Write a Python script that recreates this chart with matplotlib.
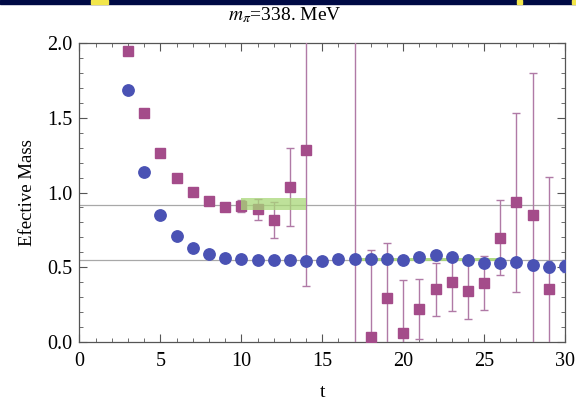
import numpy as np
import matplotlib.pyplot as plt
from matplotlib.patches import Rectangle
from matplotlib.ticker import MultipleLocator

plt.rcParams['font.family'] = ['Liberation Serif', 'DejaVu Serif']
plt.rcParams['mathtext.fontset'] = 'stix'

# pion effective mass (blue circles)
t_pion = np.arange(3, 31)
m_pion = [1.687, 1.139, 0.849, 0.708, 0.630, 0.590, 0.561, 0.552, 0.550, 0.548,
          0.548, 0.543, 0.543, 0.552, 0.556, 0.556, 0.556, 0.550, 0.570, 0.579,
          0.570, 0.546, 0.525, 0.525, 0.532, 0.514, 0.503, 0.507]
err_pion = [0.002, 0.002, 0.002, 0.003, 0.003, 0.003, 0.004, 0.004, 0.005, 0.005,
            0.006, 0.006, 0.007, 0.008, 0.009, 0.010, 0.011, 0.012, 0.014, 0.015,
            0.017, 0.019, 0.021, 0.024, 0.027, 0.030, 0.035, 0.040]

# second channel (purple squares)
t_sq = [3, 4, 5, 6, 7, 8, 9, 10, 11, 12, 13, 14, 17,
        18, 19, 20, 21, 22, 23, 24, 25, 26, 27, 28, 29]
m_sq = [1.95, 1.535, 1.263, 1.099, 1.001, 0.943, 0.905, 0.912, 0.889, 0.816, 1.035, 1.285, 2.5,
        0.034, 0.29, 0.056, 0.219, 0.351, 0.398, 0.34, 0.395, 0.697, 0.934, 0.849, 0.351]
err_sq = [0.005, 0.005, 0.008, 0.01, 0.012, 0.015, 0.02, 0.04, 0.07, 0.12, 0.26, 0.91, 3.0,
          0.58, 0.37, 0.36, 0.2, 0.18, 0.19, 0.19, 0.18, 0.25, 0.6, 0.95, 0.75]

# plateau fits: (t_start, t_end, value, half width)
fit_pion = (17, 26, 0.552, 0.008)
fit_sq = (10, 14, 0.922, 0.039)
line_pion = 0.548
line_sq = 0.916

fig = plt.figure(figsize=(5.76, 4.04), dpi=100)
ax = fig.add_axes([0.138, 0.154, 0.843, 0.739])

ax.axhline(line_sq, color='#a8a8a8', lw=0.9, zorder=1)
ax.axhline(line_pion, color='#a8a8a8', lw=0.9, zorder=1)

ax.add_patch(Rectangle((fit_pion[0], fit_pion[2] - fit_pion[3]), fit_pion[1] - fit_pion[0],
                       2 * fit_pion[3], color='#a8d878', alpha=0.9, lw=0, zorder=2))

ax.errorbar(t_pion, m_pion, yerr=err_pion, fmt='o', ms=8.2, color='#4a52b4',
            ecolor='#6a70c0', elinewidth=1, capsize=2.5, zorder=4)
ax.errorbar(t_sq, m_sq, yerr=err_sq, fmt='s', ms=7.5, color='#a44c8a',
            ecolor='#b07aa6', elinewidth=1, capsize=2.8, zorder=3)

ax.add_patch(Rectangle((fit_sq[0], fit_sq[2] - fit_sq[3]), fit_sq[1] - fit_sq[0],
                       2 * fit_sq[3], color='#a8d878', alpha=0.75, lw=0, zorder=5))

ax.set_xlim(0, 30)
ax.set_ylim(0, 2.0)
ax.xaxis.set_major_locator(MultipleLocator(5))
ax.xaxis.set_minor_locator(MultipleLocator(1))
ax.yaxis.set_major_locator(MultipleLocator(0.5))
ax.yaxis.set_minor_locator(MultipleLocator(0.1))
ax.yaxis.set_major_formatter(lambda v, pos: f'{v:.1f}')
ax.tick_params(which='both', direction='in', top=True, right=True,
               color='#555555', labelsize=14.5)
ax.tick_params(axis='x', pad=7)
ax.tick_params(axis='y', pad=5)
ax.tick_params(which='major', length=6, width=0.8)
ax.tick_params(which='minor', length=3, width=0.6)
for s in ax.spines.values():
    s.set_color('#555555')
    s.set_linewidth(0.9)

ax.set_xlabel('t', fontsize=14, labelpad=10)
ax.set_ylabel('Efective Mass', fontsize=13.5, labelpad=8)
fig.text(0.495, 0.963, r'$m_\pi$=338. MeV', ha='center', va='center', fontsize=14)

# navy strip along the top edge
fig.patches.append(Rectangle((0, 0.99), 1, 0.01, transform=fig.transFigure,
                             color='#000a45', zorder=0))
for x0, w in [(0.158, 0.03), (0.897, 0.01), (0.993, 0.007)]:
    fig.patches.append(Rectangle((x0, 0.99), w, 0.01, transform=fig.transFigure,
                                 color='#f2e64a', zorder=1))

fig.savefig('out.png', dpi=100)
